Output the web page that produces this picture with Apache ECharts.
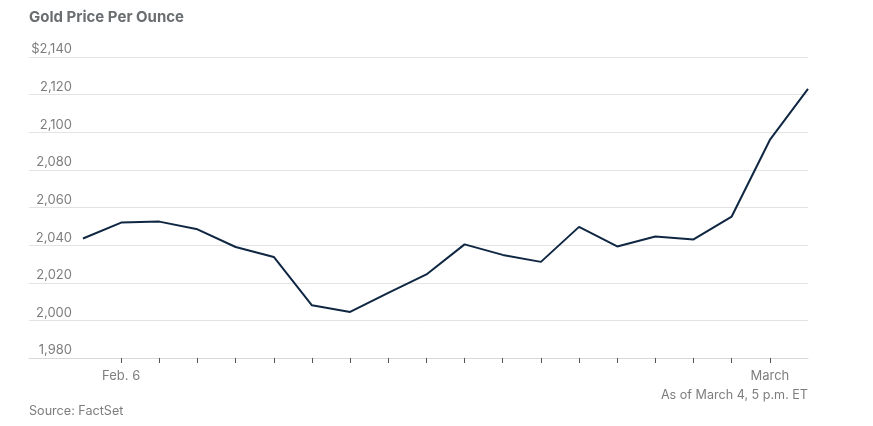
<!DOCTYPE html>
<html>
<head>
<meta charset="utf-8">
<script src="https://cdn.jsdelivr.net/npm/echarts@6/dist/echarts.min.js"></script>
<style>html,body{margin:0;padding:0;background:#fff}#c{width:873px;height:426px}</style>
</head>
<body>
<div id="c"></div>
<script>
// Data
var dates = ['Feb. 5','Feb. 6','Feb. 7','Feb. 8','Feb. 9','Feb. 12','Feb. 13','Feb. 14','Feb. 15','Feb. 16',
             'Feb. 20','Feb. 21','Feb. 22','Feb. 23','Feb. 26','Feb. 27','Feb. 28','Feb. 29','March 1','March 4'];
var prices = [2043.5, 2052.0, 2052.5, 2048.4, 2039.0, 2033.7, 2008.0, 2004.5, 2014.6, 2024.4,
              2040.4, 2034.8, 2031.1, 2049.7, 2039.3, 2044.6, 2043.0, 2055.2, 2095.9, 2123.1];
var xTickLabels = {1: 'Feb. 6', 18: 'March'};
var yMin = 1980, yMax = 2140, yStep = 20;
var title = 'Gold Price Per Ounce';
var note = 'As of March 4, 5 p.m. ET';
var source = 'Source: FactSet';

var FONT = 'Inter, "Noto Sans", sans-serif';
var chart = echarts.init(document.getElementById('c'), null, {renderer: 'canvas'});
var tickIdx = [];
for (var i = 1; i < dates.length - 1; i++) tickIdx.push(i);
var labelIdx = Object.keys(xTickLabels).map(Number);

chart.setOption({
  animation: false,
  backgroundColor: '#fff',
  grid: {left: 29, right: 65, top: 57, bottom: 68},
  xAxis: {
    type: 'value',
    min: -1.415,
    max: dates.length - 1,
    splitLine: {show: false},
    axisLine: {show: true, onZero: false, lineStyle: {color: '#d9d9d9', width: 1}},
    axisTick: {show: true, customValues: tickIdx, length: 5, lineStyle: {color: '#555', width: 1}},
    axisLabel: {
      show: true, customValues: labelIdx, margin: 12,
      color: '#7d7d7d', fontFamily: FONT, fontSize: 13,
      formatter: function (v) { return xTickLabels[Math.round(v)] || ''; }
    }
  },
  yAxis: {
    type: 'value',
    min: yMin, max: yMax, interval: yStep,
    axisLine: {show: false},
    axisTick: {show: false},
    splitLine: {show: true, lineStyle: {color: '#e3e3e3', width: 1}},
    axisLabel: {
      inside: true, margin: 43, align: 'right', verticalAlign: 'bottom',
      padding: [0, 0, 1, 0],
      color: '#7d7d7d', fontFamily: FONT, fontSize: 13,
      formatter: function (v) {
        var s = v.toLocaleString('en-US');
        return v === yMax ? '$' + s : s;
      }
    }
  },
  series: [{
    type: 'line',
    data: prices.map(function (p, i) { return [i, p]; }),
    symbol: 'none',
    clip: false,
    lineStyle: {color: '#0f2742', width: 2},
    z: 5
  }],
  graphic: [
    {type: 'text', left: 29, top: 10, style: {text: title, fill: '#6b6e70', font: 'bold 15px ' + FONT}},
    {type: 'text', right: 65, top: 389, style: {text: note, fill: '#7d7d7d', font: '12.6px ' + FONT, textAlign: 'right'}},
    {type: 'text', left: 29, top: 405, style: {text: source, fill: '#7d7d7d', font: '12.6px ' + FONT}}
  ]
});
</script>
</body>
</html>
